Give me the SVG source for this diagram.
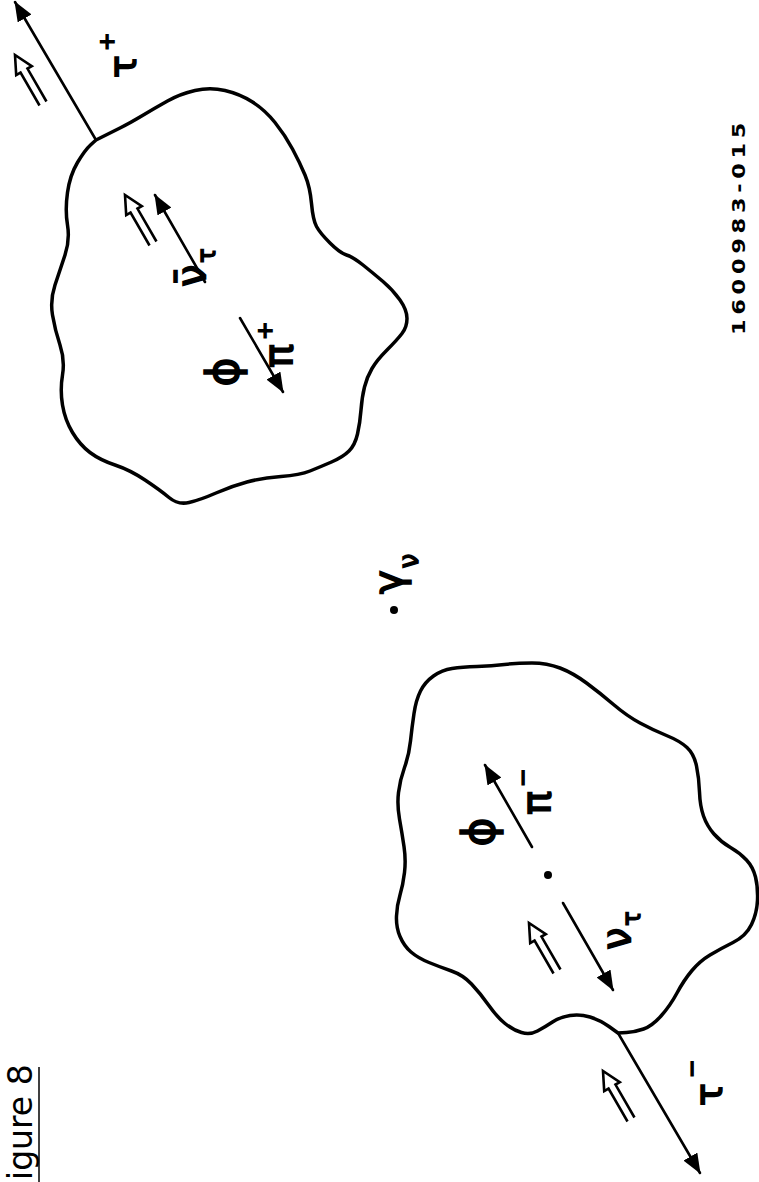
<svg xmlns="http://www.w3.org/2000/svg" width="759" height="1182" viewBox="0 0 759 1182">
<style>
.blob{fill:none;stroke:#000;stroke-width:3.5;stroke-linejoin:round;stroke-linecap:round}
.ln{fill:none;stroke:#000;stroke-width:2.6;stroke-linecap:round}
.dbl{fill:none;stroke:#000;stroke-width:2.6;stroke-linejoin:miter}
.g{font-family:"DejaVu Sans",sans-serif;font-weight:normal;fill:#000;stroke:#000;stroke-width:1.6}
.cap{font-family:"DejaVu Sans",sans-serif;fill:#000}
.id{font-family:"DejaVu Sans",sans-serif;font-weight:bold;fill:#000}
</style>
<defs>
<marker id="ah" viewBox="0 0 20 16" refX="19" refY="8" markerWidth="20" markerHeight="16" markerUnits="userSpaceOnUse" orient="auto">
<path d="M0,0 L20,8 L0,16 Z" fill="#000"/>
</marker>
<path id="dbl" class="dbl" d="M-56,-4 L-18,-4 L-18,-9 L0,0 L-18,9 L-18,4 L-56,4"/>
</defs>
<rect width="759" height="1182" fill="#fff"/>

<g id="caption">
<text class="cap" font-size="33" transform="translate(32,1180) rotate(-90)">igure 8</text>
<line x1="39" y1="1067" x2="39" y2="1182" stroke="#000" stroke-width="1.5"/>
</g>

<g id="figure-id">
<text class="id" font-size="18" textLength="170" lengthAdjust="spacing" transform="translate(745,335) rotate(-90) scale(1.25,1)">1600983-015</text>
</g>

<g id="blob-upper">
<path class="blob" d="M96,140 L103,136.5 Q110,133 120,128 Q130,123 142.5,115.5 Q155,108 167.5,101 Q180,94 195,90.5 Q210,87 225,90.5 Q240,94 252.5,102 Q265,110 275,122.5 Q285,135 292.5,149 Q300,163 305,175 Q310,187 311.5,203.5 Q313,220 316.5,226.5 Q320,233 330,243 Q340,253 346.5,255 Q353,257 363,265 Q373,273 383,281.5 Q393,290 400,300 Q407,310 407,318.5 Q407,327 402,333.5 Q397,340 387,350 Q377,360 372,368.5 Q367,377 364.5,387 Q362,397 361,410 Q360,423 357.5,434 Q355,445 349,451 Q343,457 331.5,462 Q320,467 310,471 Q300,475 281,476.5 Q262,478 247,482 Q232,486 216,493 Q200,500 189,502.5 Q178,505 169,497.5 Q160,490 145,480 Q130,470 115,465 Q100,460 90,452.5 Q80,445 72.5,432.5 Q65,420 62.5,405 Q60,390 62.5,375 Q65,360 60,345 Q55,330 52.5,315 Q50,300 55,285 Q60,270 65,255 Q70,240 67.5,225 Q65,210 67.5,192.5 Q70,175 77.5,162.5 Q85,150 90.5,145 L96,140"/>
<text class="g" font-size="44" text-anchor="middle" transform="translate(238,372) rotate(-90)">ϕ</text>
<text class="g" font-size="40" transform="translate(292,368) rotate(-90)">π<tspan font-size="22" dx="4" dy="-20">+</tspan></text>
<text class="g" font-size="40" transform="translate(205,287) rotate(-90)">ν̄<tspan font-size="24" dx="2" dy="10">τ</tspan></text>
</g>

<g id="blob-lower">
<path class="blob" d="M618,1033 L609,1026.5 Q600,1020 590,1017 Q580,1014 570,1015.5 Q560,1017 552.5,1022 Q545,1027 537.5,1031 Q530,1035 521.5,1032.5 Q513,1030 505,1023.5 Q497,1017 488.5,1005 Q480,993 471.5,984 Q463,975 451.5,971 Q440,967 429,962.5 Q418,958 411,952 Q404,946 400,936.5 Q396,927 396.5,916 Q397,905 400,895 Q403,885 404.5,872.5 Q406,860 404,846.5 Q402,833 399.5,819 Q397,805 398.5,792.5 Q400,780 404.5,767.5 Q409,755 410.5,741 Q412,727 414,713.5 Q416,700 420.5,691 Q425,682 433.5,676 Q442,670 452,668.5 Q462,667 477,666.5 Q492,666 504.5,664.5 Q517,663 532,663 Q547,663 560,668 Q573,673 586.5,683 Q600,693 613.5,704.5 Q627,716 640,723 Q653,730 666.5,735.5 Q680,741 687,747.5 Q694,754 696.5,766 Q699,778 699.5,792 Q700,806 703.5,816 Q707,826 714,834 Q721,842 730.5,847.5 Q740,853 746.5,860 Q753,867 755.5,877 Q758,887 757.5,900 Q757,913 751.5,924.5 Q746,936 733,942.5 Q720,949 710,955 Q700,961 692,970.5 Q684,980 677,993 Q670,1006 661,1016 Q652,1026 643.5,1029 Q635,1032 626.5,1032.5 L618,1033"/>
<circle cx="548" cy="875" r="4" fill="#000"/>
<text class="g" font-size="44" text-anchor="middle" transform="translate(494,832) rotate(-90)">ϕ</text>
<text class="g" font-size="40" transform="translate(550,815) rotate(-90)">π<tspan font-size="22" dx="4" dy="-20">−</tspan></text>
<text class="g" font-size="40" transform="translate(630,950) rotate(-90)">ν<tspan font-size="24" dx="2" dy="10">τ</tspan></text>
</g>

<g id="gamma">
<circle cx="394" cy="610" r="4" fill="#000"/>
<text class="g" font-size="40" transform="translate(402,594) rotate(-90)">γ<tspan font-size="26" dx="2" dy="16">ν</tspan></text>
</g>

<g id="tau-plus">
<text class="g" font-size="38" transform="translate(136,78) rotate(-90)">τ<tspan font-size="22" dx="4" dy="-22">+</tspan></text>
</g>
<g id="tau-minus">
<text class="g" font-size="38" transform="translate(722,1106) rotate(-90)">τ<tspan font-size="22" dx="5" dy="-23">−</tspan></text>
</g>

<g id="connectors">
<line class="ln" x1="96" y1="140" x2="15" y2="2" marker-end="url(#ah)"/>
<line class="ln" x1="618" y1="1033" x2="700" y2="1173" marker-end="url(#ah)"/>
<line class="ln" x1="532" y1="847" x2="485" y2="765" marker-end="url(#ah)"/>
<line class="ln" x1="563" y1="903" x2="613" y2="990" marker-end="url(#ah)"/>
<line class="ln" x1="205" y1="282" x2="155" y2="195" marker-end="url(#ah)"/>
<line class="ln" x1="240" y1="318" x2="283" y2="392" marker-end="url(#ah)"/>
<use href="#dbl" transform="translate(529,923) rotate(240)"/>
<use href="#dbl" transform="translate(603,1071) rotate(240)"/>
<use href="#dbl" transform="translate(125,195) rotate(240)"/>
<use href="#dbl" transform="translate(15,55) rotate(240)"/>
</g>
</svg>
